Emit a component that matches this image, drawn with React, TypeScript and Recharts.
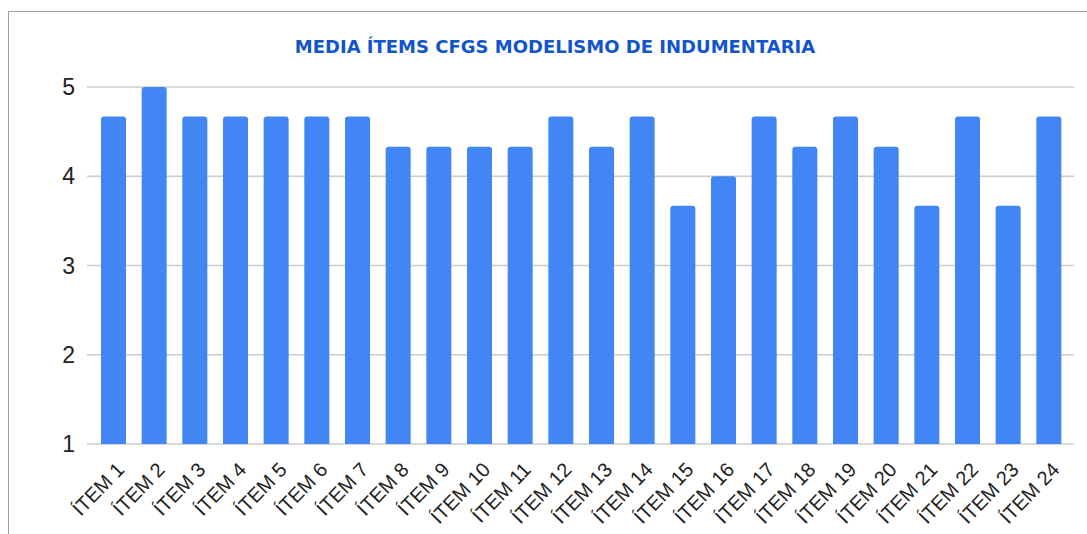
import { BarChart, Bar, XAxis, YAxis, CartesianGrid } from 'recharts';

// Media por ítem (CFGS Modelismo de Indumentaria)
const ITEMS = [
  'ÍTEM 1', 'ÍTEM 2', 'ÍTEM 3', 'ÍTEM 4', 'ÍTEM 5', 'ÍTEM 6', 'ÍTEM 7', 'ÍTEM 8',
  'ÍTEM 9', 'ÍTEM 10', 'ÍTEM 11', 'ÍTEM 12', 'ÍTEM 13', 'ÍTEM 14', 'ÍTEM 15', 'ÍTEM 16',
  'ÍTEM 17', 'ÍTEM 18', 'ÍTEM 19', 'ÍTEM 20', 'ÍTEM 21', 'ÍTEM 22', 'ÍTEM 23', 'ÍTEM 24',
];
const MEDIA = [
  4.67, 5, 4.67, 4.67, 4.67, 4.67, 4.67, 4.33,
  4.33, 4.33, 4.33, 4.67, 4.33, 4.67, 3.67, 4,
  4.67, 4.33, 4.67, 4.33, 3.67, 4.67, 3.67, 4.67,
];
const Y_TICKS = [1, 2, 3, 4, 5];

const TITLE = 'MEDIA ÍTEMS CFGS MODELISMO DE INDUMENTARIA';
const BAR_COLOR = '#4285f4';

const data = ITEMS.map((item, i) => ({ item, media: MEDIA[i] }));

function ItemTick(props: any) {
  const { x, y, payload } = props;
  return (
    <g transform={`translate(${x + 2},${y + 9})`}>
      <text
        transform="rotate(-46)"
        textAnchor="end"
        dy="0.7em"
        fill="#222"
        fontSize={20}
        fontFamily="'Liberation Sans', Arial, sans-serif"
      >
        {payload.value}
      </text>
    </g>
  );
}

export default function App() {
  return (
    <div
      style={{
        position: 'absolute',
        left: 0,
        top: 0,
        width: 1087,
        height: 534,
        overflow: 'hidden',
        background: '#fff',
      }}
    >
      <div
        style={{
          position: 'absolute',
          left: 8,
          top: 11,
          width: 1200,
          height: 700,
          border: '1px solid #9e9e9e',
        }}
      />
      <div
        style={{
          position: 'absolute',
          left: 0,
          top: 36,
          width: 1110,
          textAlign: 'center',
          fontFamily: "'DejaVu Sans', Verdana, sans-serif",
          fontWeight: 'bold',
          fontSize: 18,
          color: '#1155cc',
        }}
      >
        {TITLE}
      </div>
      <div style={{ position: 'absolute', left: 0, top: 0 }}>
        <BarChart
          width={1087}
          height={534}
          data={data}
          margin={{ top: 87, right: 13, bottom: 0, left: 0 }}
          barSize={25}
        >
          <CartesianGrid vertical={false} stroke="#cccccc" strokeWidth={1.5} />
          <XAxis
            dataKey="item"
            interval={0}
            height={90}
            axisLine={false}
            tickLine={false}
            padding={{ left: 6, right: 5 }}
            tick={<ItemTick />}
          />
          <YAxis
            domain={[1, 5]}
            ticks={Y_TICKS}
            width={87}
            axisLine={false}
            tickLine={false}
            tickMargin={6}
            tick={{ fill: '#222', fontSize: 23, fontFamily: "'Liberation Sans', Arial, sans-serif" }}
          />
          <Bar dataKey="media" fill={BAR_COLOR} radius={[3, 3, 0, 0]} isAnimationActive={false} />
        </BarChart>
      </div>
    </div>
  );
}
